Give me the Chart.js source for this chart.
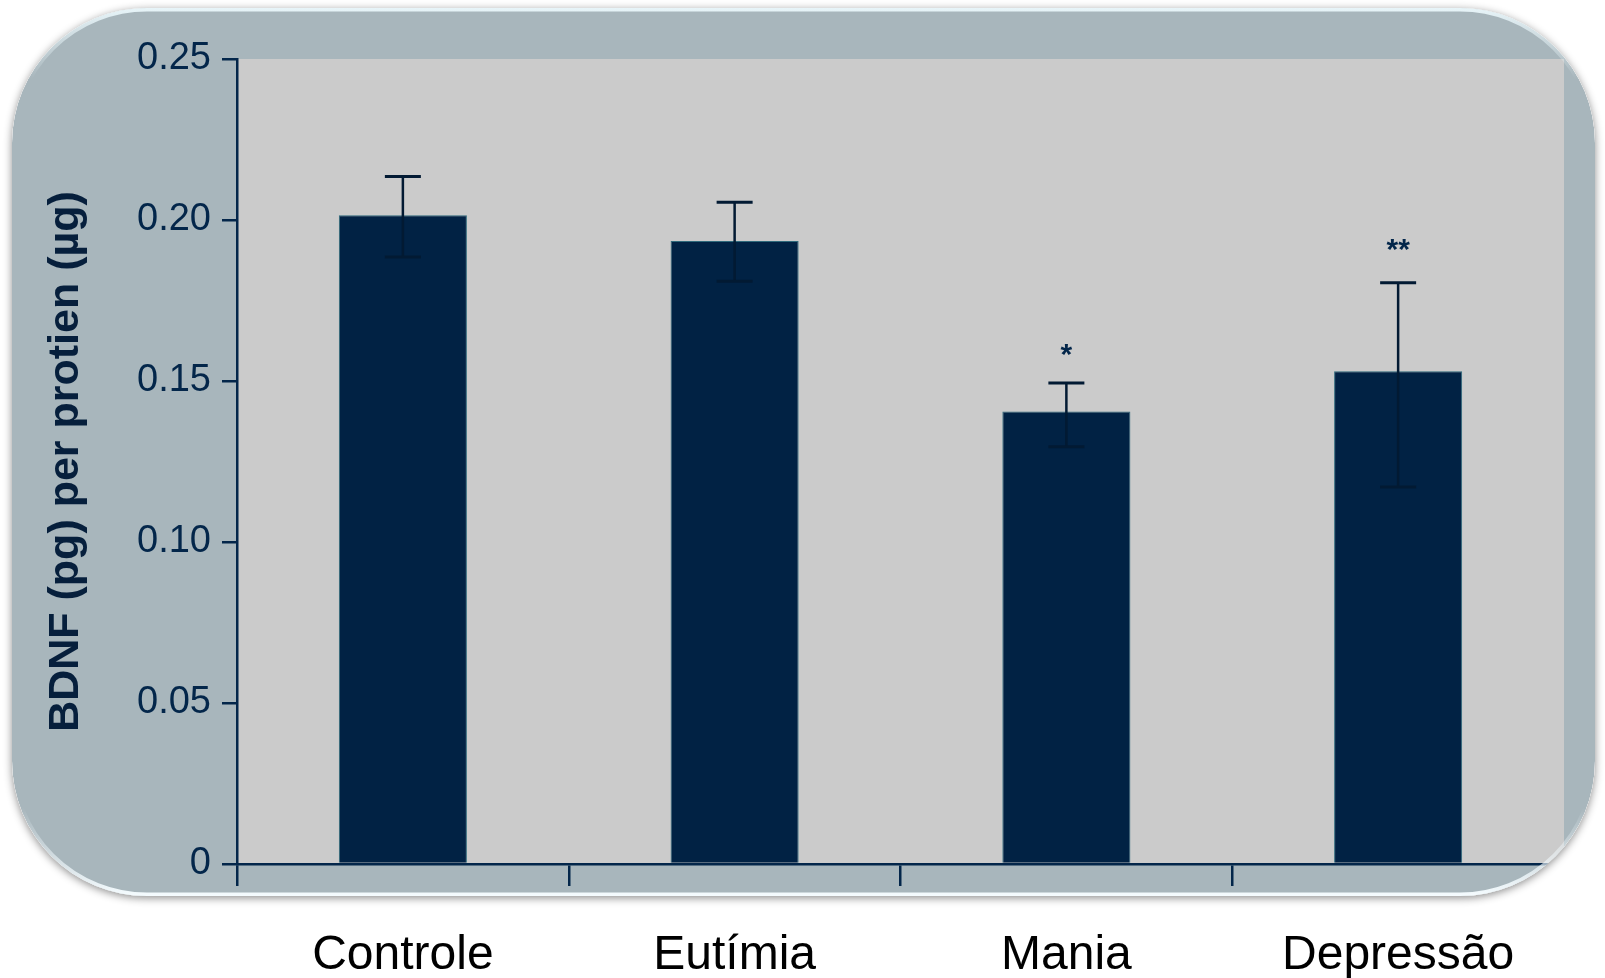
<!DOCTYPE html>
<html>
<head>
<meta charset="utf-8">
<script src="https://cdn.jsdelivr.net/npm/chart.js@4.4.1/dist/chart.umd.min.js"></script>
<style>
  html, body { margin: 0; padding: 0; background: #ffffff; }
  canvas { display: block; }
</style>
</head>
<body>
<canvas id="bdnfChart" width="1605" height="978"></canvas>
<script>
// dados
const groups = ['Controle', 'Eutímia', 'Mania', 'Depressão'];
const bdnfMeans = [0.2015, 0.1935, 0.1405, 0.1530];
const errUpper = [0.2135, 0.2055, 0.1494, 0.1805];
const errLower = [0.1885, 0.1810, 0.1296, 0.1171];
const sigMarks = ['', '', '*', '**'];
const yTicks = [0, 0.05, 0.10, 0.15, 0.20, 0.25];

// cores
const navy = '#03264a';
const barColor = '#012244';
const frameColor = '#a8b6bc';
const plotGray = '#cbcbcb';

// moldura arredondada (estilo de imagem do PowerPoint)
const FRAME = { x: 12, y: 8, w: 1583, h: 888, r: 135 };

function framePath(ctx) {
  ctx.beginPath();
  ctx.roundRect(FRAME.x, FRAME.y, FRAME.w, FRAME.h, FRAME.r);
}

const framePlugin = {
  id: 'frame',
  beforeDraw(chart) {
    const ctx = chart.ctx;
    const ca = chart.chartArea;
    ctx.save();
    framePath(ctx);
    ctx.fillStyle = frameColor;
    ctx.fill();
    ctx.fillStyle = plotGray;
    ctx.fillRect(ca.left, ca.top, ca.right - ca.left, ca.bottom - ca.top);
    ctx.restore();
  },
  afterDraw(chart) {
    const ctx = chart.ctx;
    const W = chart.width;
    // tudo que sai da moldura fica branco
    ctx.save();
    ctx.beginPath();
    ctx.rect(0, 0, W, 910);
    ctx.roundRect(FRAME.x, FRAME.y, FRAME.w, FRAME.h, FRAME.r);
    ctx.fillStyle = '#ffffff';
    ctx.fill('evenodd');
    ctx.clip('evenodd');
    // sombra fora da moldura
    framePath(ctx);
    ctx.shadowColor = 'rgba(0,0,0,0.45)';
    ctx.shadowBlur = 9;
    ctx.shadowOffsetY = 2;
    ctx.fillStyle = '#ffffff';
    ctx.fill();
    ctx.restore();

    // brilho no topo e na base
    ctx.save();
    framePath(ctx);
    ctx.clip();
    const g = ctx.createLinearGradient(0, FRAME.y, 0, FRAME.y + FRAME.h);
    g.addColorStop(0, 'rgba(235,248,252,0.95)');
    g.addColorStop(0.08, 'rgba(235,248,252,0)');
    g.addColorStop(0.9, 'rgba(240,250,255,0)');
    g.addColorStop(1, 'rgba(245,252,255,1)');
    framePath(ctx);
    ctx.lineWidth = 7;
    ctx.strokeStyle = g;
    ctx.stroke();
    ctx.restore();
  }
};

const errorBarPlugin = {
  id: 'errorBars',
  afterDatasetsDraw(chart) {
    const ctx = chart.ctx;
    const x = chart.scales.x;
    const y = chart.scales.y;
    ctx.save();
    ctx.strokeStyle = '#021a33';
    groups.forEach((g, i) => {
      const cx = x.getPixelForValue(i);
      const top = y.getPixelForValue(errUpper[i]);
      const bot = y.getPixelForValue(errLower[i]);
      ctx.lineWidth = 2.5;
      ctx.beginPath();
      ctx.moveTo(cx, top);
      ctx.lineTo(cx, bot);
      ctx.stroke();
      ctx.lineWidth = 3;
      ctx.beginPath();
      ctx.moveTo(cx - 18, top);
      ctx.lineTo(cx + 18, top);
      ctx.moveTo(cx - 18, bot);
      ctx.lineTo(cx + 18, bot);
      ctx.stroke();
      if (sigMarks[i]) {
        ctx.fillStyle = navy;
        ctx.font = 'bold 30px "Liberation Sans", Arial, sans-serif';
        ctx.textAlign = 'center';
        ctx.textBaseline = 'alphabetic';
        ctx.fillText(sigMarks[i], cx, top - (sigMarks[i].length > 1 ? 24 : 19));
      }
    });
    ctx.restore();
  }
};

const bdnfChart = new Chart(document.getElementById('bdnfChart'), {
  type: 'bar',
  data: {
    labels: groups,
    datasets: [{
      label: 'BDNF',
      data: bdnfMeans,
      backgroundColor: barColor,
      borderColor: 'rgba(30,95,115,0.9)',
      borderWidth: 1,
      barPercentage: 0.386,
      categoryPercentage: 1
    }]
  },
  options: {
    responsive: false,
    animation: false,
    devicePixelRatio: 1,
    layout: { padding: { top: 59, right: 41, left: 0, bottom: 0 } },
    plugins: {
      legend: { display: false },
      tooltip: { enabled: false }
    },
    scales: {
      x: {
        offset: true,
        grid: {
          offset: true,
          drawOnChartArea: false,
          drawTicks: true,
          tickLength: 22,
          color: navy,
          lineWidth: 2.5
        },
        border: { display: true, color: navy, width: 2.5 },
        ticks: {
          color: '#000000',
          padding: 41,
          font: { family: '"Liberation Sans", Arial, sans-serif', size: 48 }
        },
        afterFit(scale) { scale.height = 114; }
      },
      y: {
        min: 0,
        max: 0.25,
        afterBuildTicks(scale) { scale.ticks = yTicks.map(v => ({ value: v })); },
        grid: {
          drawOnChartArea: false,
          drawTicks: true,
          tickLength: 15,
          color: navy,
          lineWidth: 2.5
        },
        border: { display: true, color: navy, width: 2.5 },
        ticks: {
          color: navy,
          padding: 11,
          font: { family: '"Liberation Sans", Arial, sans-serif', size: 38 },
          callback: v => (v === 0 ? '0' : v.toFixed(2))
        },
        title: {
          display: true,
          text: 'BDNF (pg) per protien (µg)',
          color: '#061f3c',
          padding: { top: 40, bottom: 0 },
          font: { family: '"Liberation Sans", Arial, sans-serif', size: 43, weight: 'bold' }
        },
        afterFit(scale) { scale.width = 237; }
      }
    }
  },
  plugins: [framePlugin, errorBarPlugin]
});
</script>
</body>
</html>
